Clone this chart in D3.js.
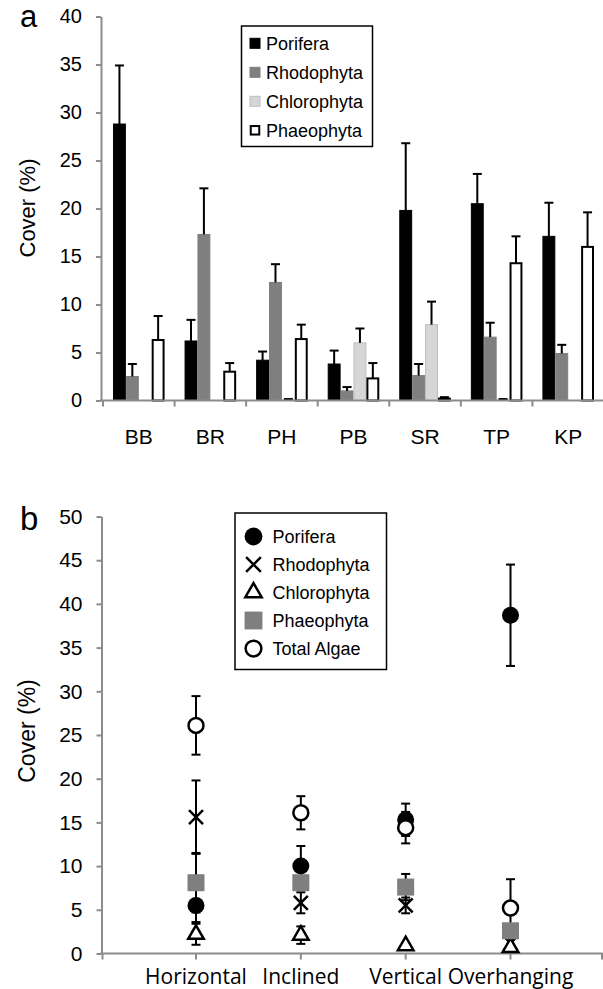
<!DOCTYPE html>
<html>
<head>
<meta charset="utf-8">
<script src="https://cdn.jsdelivr.net/npm/d3@7"></script>
<style>
  html, body { margin: 0; padding: 0; background: #fff; }
  svg { display: block; font-family: "Liberation Sans", Arial, Helvetica, sans-serif; }
</style>
</head>
<body>
<div id="chart"></div>
<script>
// ---- panel a: cover by site ----
const sites = ["BB", "BR", "PH", "PB", "SR", "TP", "KP"];
const groups = ["Porifera", "Rhodophyta", "Chlorophyta", "Phaeophyta"];
const poriferaMean = [28.8, 6.2, 4.2, 3.8, 19.8, 20.5, 17.1];
const poriferaSE   = [6.1, 2.2, 0.9, 1.4, 7.0, 3.1, 3.5];
const rhodoMean    = [2.5, 17.3, 12.3, 1.0, 2.6, 6.6, 4.9];
const rhodoSE      = [1.3, 4.8, 1.9, 0.4, 1.2, 1.5, 0.9];
const chloroMean   = [0, 0, 0.05, 6.0, 7.9, 0.05, 0];
const chloroSE     = [0, 0, 0.1, 1.5, 2.4, 0.1, 0];
const phaeoMean    = [6.3, 3.0, 6.4, 2.3, 0.2, 14.3, 16.0];
const phaeoSE      = [2.5, 0.9, 1.5, 1.6, 0.15, 2.8, 3.6];
const yTicksA = [0, 5, 10, 15, 20, 25, 30, 35, 40];

// ---- panel b: cover by surface orientation ----
const surfaces = ["Horizontal", "Inclined", "Vertical", "Overhanging"];
const seriesB = ["Porifera", "Rhodophyta", "Chlorophyta", "Phaeophyta", "Total Algae"];
const porMean = [5.5, 10.0, 15.3, 38.7];
const porSE   = [1.9, 2.3, 1.85, 5.8];
const rhoMean = [15.6, 5.8, 5.5, 1.2];
const rhoSE   = [4.2, 1.2, 0.9, 0.4];
const chlMean = [2.2, 2.1, 0.9, 0.7];
const chlSE   = [1.2, 1.0, 0.3, 0.3];
const phaMean = [8.1, 8.1, 7.6, 2.6];
const phaSE   = [3.4, 0.6, 1.5, 0.6];
const totMean = [26.1, 16.1, 14.4, 5.2];
const totSE   = [3.35, 1.9, 1.8, 3.3];
const yTicksB = [0, 5, 10, 15, 20, 25, 30, 35, 40, 45, 50];

const W = 603, H = 989;
const axisColor = "#8c8c8c";

const svg = d3.select("#chart").append("svg")
    .attr("width", W)
    .attr("height", H);

// ===================== panel a =====================
const barFill = { Porifera: "#000", Rhodophyta: "#7f7f7f", Chlorophyta: "#d6d6d6", Phaeophyta: "#fff" };
const barStroke = { Porifera: "#000", Rhodophyta: "#7f7f7f", Chlorophyta: "#bdbdbd", Phaeophyta: "#000" };
const meansA = [poriferaMean, rhodoMean, chloroMean, phaeoMean];
const seA = [poriferaSE, rhodoSE, chloroSE, phaeoSE];

const x0 = d3.scaleBand().domain(sites).range([103, 604]);
const x1 = d3.scaleBand().domain(groups).range([0, x0.bandwidth()]).paddingOuter(0.775);
const yA = d3.scaleLinear().domain([0, 40]).range([400.5, 16.5]);

const gA = svg.append("g");

// y axis
const yAxisA = gA.append("g")
    .attr("transform", "translate(101,0)")
    .call(d3.axisLeft(yA).tickValues(yTicksA).tickSize(5).tickPadding(14).tickSizeOuter(0));
yAxisA.select(".domain").attr("stroke", axisColor).attr("stroke-width", 2);
yAxisA.selectAll(".tick line").attr("stroke", axisColor).attr("stroke-width", 2);
yAxisA.selectAll(".tick text").attr("font-size", 20).attr("fill", "#000")
    .attr("font-family", "'Liberation Sans', Arial, sans-serif");

// bars
const barData = [];
sites.forEach((s, i) => groups.forEach((g, j) => {
    barData.push({ site: s, group: g, v: meansA[j][i], e: seA[j][i] });
}));

gA.append("g").selectAll("rect")
    .data(barData)
    .enter().append("rect")
    .attr("x", d => x0(d.site) + x1(d.group) + (d.group === "Phaeophyta" ? 1 : 0.5))
    .attr("width", d => x1.bandwidth() - (d.group === "Phaeophyta" ? 2 : 1))
    .attr("y", d => yA(d.v))
    .attr("height", d => yA(0) - yA(d.v))
    .attr("fill", d => barFill[d.group])
    .attr("stroke", d => barStroke[d.group])
    .attr("stroke-width", d => d.group === "Phaeophyta" ? 2 : 1);

// error bars (upper only)
const errA = gA.append("g").selectAll("g")
    .data(barData.filter(d => d.e > 0))
    .enter().append("g")
    .attr("transform", d => `translate(${x0(d.site) + x1(d.group) + x1.bandwidth() / 2},0)`);
errA.append("line")
    .attr("x1", 0).attr("x2", 0)
    .attr("y1", d => yA(d.v)).attr("y2", d => yA(d.v + d.e))
    .attr("stroke", "#000").attr("stroke-width", 2);
errA.append("line")
    .attr("x1", -4.5).attr("x2", 4.5)
    .attr("y1", d => yA(d.v + d.e)).attr("y2", d => yA(d.v + d.e))
    .attr("stroke", "#000").attr("stroke-width", 2);

// x axis
const xAxisA = gA.append("g").attr("transform", `translate(0,${yA(0)})`);
xAxisA.append("line")
    .attr("x1", 100).attr("x2", W)
    .attr("stroke", axisColor).attr("stroke-width", 2);
xAxisA.selectAll("line.tk")
    .data(sites)
    .enter().append("line").attr("class", "tk")
    .attr("x1", d => x0(d)).attr("x2", d => x0(d))
    .attr("y1", 0).attr("y2", 6)
    .attr("stroke", axisColor).attr("stroke-width", 2);
xAxisA.selectAll("text")
    .data(sites)
    .enter().append("text")
    .attr("x", d => x0(d) + x0.bandwidth() / 2)
    .attr("y", 43)
    .attr("text-anchor", "middle")
    .attr("font-size", 21)
    .text(d => d);

// axis title + panel letter
gA.append("text")
    .attr("transform", "translate(35,208) rotate(-90)")
    .attr("text-anchor", "middle")
    .attr("font-size", 22)
    .text("Cover (%)");
gA.append("text")
    .attr("x", 20).attr("y", 27)
    .attr("font-size", 31)
    .text("a");

// legend
const legA = gA.append("g");
legA.append("rect")
    .attr("x", 241.5).attr("y", 26)
    .attr("width", 131).attr("height", 120.5)
    .attr("fill", "#fff").attr("stroke", "#000").attr("stroke-width", 1.5);
const legRowA = legA.selectAll("g.row")
    .data(groups)
    .enter().append("g").attr("class", "row")
    .attr("transform", (d, i) => `translate(250,${43.3 + i * 29})`);
legRowA.append("rect")
    .attr("x", d => d === "Phaeophyta" ? 0.75 : 0)
    .attr("y", d => d === "Phaeophyta" ? -4.25 : -5)
    .attr("width", d => d === "Phaeophyta" ? 8.5 : 10)
    .attr("height", d => d === "Phaeophyta" ? 8.5 : 10)
    .attr("fill", d => barFill[d])
    .attr("stroke", d => barStroke[d])
    .attr("stroke-width", d => d === "Phaeophyta" ? 2 : 1);
legRowA.append("text")
    .attr("x", 16).attr("y", 6.5)
    .attr("font-size", 18)
    .text(d => d);

// ===================== panel b =====================
const meansB = [porMean, rhoMean, chlMean, phaMean, totMean];
const seB = [porSE, rhoSE, chlSE, phaSE, totSE];

const xB = d3.scalePoint().domain(surfaces).range([196, 510.5]);
const yB = d3.scaleLinear().domain([0, 50]).range([953.5, 516.5]);

const gB = svg.append("g");

const yAxisB = gB.append("g")
    .attr("transform", "translate(101.5,0)")
    .call(d3.axisLeft(yB).tickValues(yTicksB).tickSize(5).tickPadding(14).tickSizeOuter(0));
yAxisB.select(".domain").attr("stroke", axisColor).attr("stroke-width", 2);
yAxisB.selectAll(".tick line").attr("stroke", axisColor).attr("stroke-width", 2);
yAxisB.selectAll(".tick text").attr("font-size", 21).attr("fill", "#000")
    .attr("font-family", "'Liberation Sans', Arial, sans-serif");

// x axis
const xAxisB = gB.append("g").attr("transform", `translate(0,${yB(0)})`);
xAxisB.append("line")
    .attr("x1", 100.5).attr("x2", W)
    .attr("stroke", axisColor).attr("stroke-width", 2);
xAxisB.selectAll("line.tk")
    .data([102.5].concat(surfaces.map(s => xB(s))).concat([602]))
    .enter().append("line").attr("class", "tk")
    .attr("x1", d => d).attr("x2", d => d)
    .attr("y1", 0).attr("y2", 6)
    .attr("stroke", axisColor).attr("stroke-width", 2);
xAxisB.selectAll("text")
    .data(surfaces)
    .enter().append("text")
    .attr("x", d => xB(d))
    .attr("y", 30)
    .attr("text-anchor", "middle")
    .attr("font-family", "'Open Sans', 'Noto Sans', sans-serif")
    .attr("font-size", 21)
    .text(d => d);

// points
const pts = [];
seriesB.forEach((s, j) => surfaces.forEach((c, i) => {
    pts.push({ series: s, cat: c, v: meansB[j][i], e: seB[j][i] });
}));

// error bars behind markers
const errB = gB.append("g").selectAll("g")
    .data(pts)
    .enter().append("g")
    .attr("transform", d => `translate(${xB(d.cat)},0)`);
errB.append("line")
    .attr("y1", d => yB(d.v - d.e)).attr("y2", d => yB(d.v + d.e))
    .attr("stroke", "#000").attr("stroke-width", 2);
errB.selectAll("line.cap")
    .data(d => [d.v - d.e, d.v + d.e])
    .enter().append("line").attr("class", "cap")
    .attr("x1", -4.5).attr("x2", 4.5)
    .attr("y1", d => yB(d)).attr("y2", d => yB(d))
    .attr("stroke", "#000").attr("stroke-width", 2);

const timesPath = (r) => `M${-r},${-r}L${r},${r}M${-r},${r}L${r},${-r}`;
function marker(sel, series, scale) {
    const k = scale || 1;
    if (series === "Porifera") {
        sel.append("circle").attr("r", 8.5 * k).attr("fill", "#000");
    } else if (series === "Rhodophyta") {
        sel.append("path").attr("d", timesPath(7 * k))
            .attr("fill", "none").attr("stroke", "#000").attr("stroke-width", 2.5);
    } else if (series === "Chlorophyta") {
        sel.append("path").attr("d", d3.symbol().type(d3.symbolTriangle).size(105 * k * k)())
            .attr("fill", "#fff").attr("stroke", "#000").attr("stroke-width", 2.5)
            .attr("stroke-linejoin", "miter");
    } else if (series === "Phaeophyta") {
        sel.append("rect").attr("x", -8.5 * k).attr("y", -8.5 * k)
            .attr("width", 17 * k).attr("height", 17 * k).attr("fill", "#7f7f7f");
    } else {
        sel.append("circle").attr("r", 7.5 * k)
            .attr("fill", "#fff").attr("stroke", "#000").attr("stroke-width", 2.5);
    }
}

gB.append("g").selectAll("g")
    .data(pts)
    .enter().append("g")
    .attr("transform", d => `translate(${xB(d.cat)},${yB(d.v)})`)
    .each(function (d) { marker(d3.select(this), d.series); });

// axis title + panel letter
gB.append("text")
    .attr("transform", "translate(35,731) rotate(-90)")
    .attr("text-anchor", "middle")
    .attr("font-size", 23)
    .text("Cover (%)");
gB.append("text")
    .attr("x", 20).attr("y", 530)
    .attr("font-size", 33)
    .text("b");

// legend
const legB = gB.append("g");
legB.append("rect")
    .attr("x", 235).attr("y", 513)
    .attr("width", 151.5).attr("height", 156.5)
    .attr("fill", "#fff").attr("stroke", "#000").attr("stroke-width", 1.5);
const legRowB = legB.selectAll("g.row")
    .data(seriesB)
    .enter().append("g").attr("class", "row")
    .attr("transform", (d, i) => `translate(253.5,${536.5 + i * 28})`);
legRowB.each(function (d) { marker(d3.select(this), d, 1.05); });
legRowB.append("text")
    .attr("x", 19).attr("y", 6.5)
    .attr("font-size", 18)
    .text(d => d);
</script>
</body>
</html>
